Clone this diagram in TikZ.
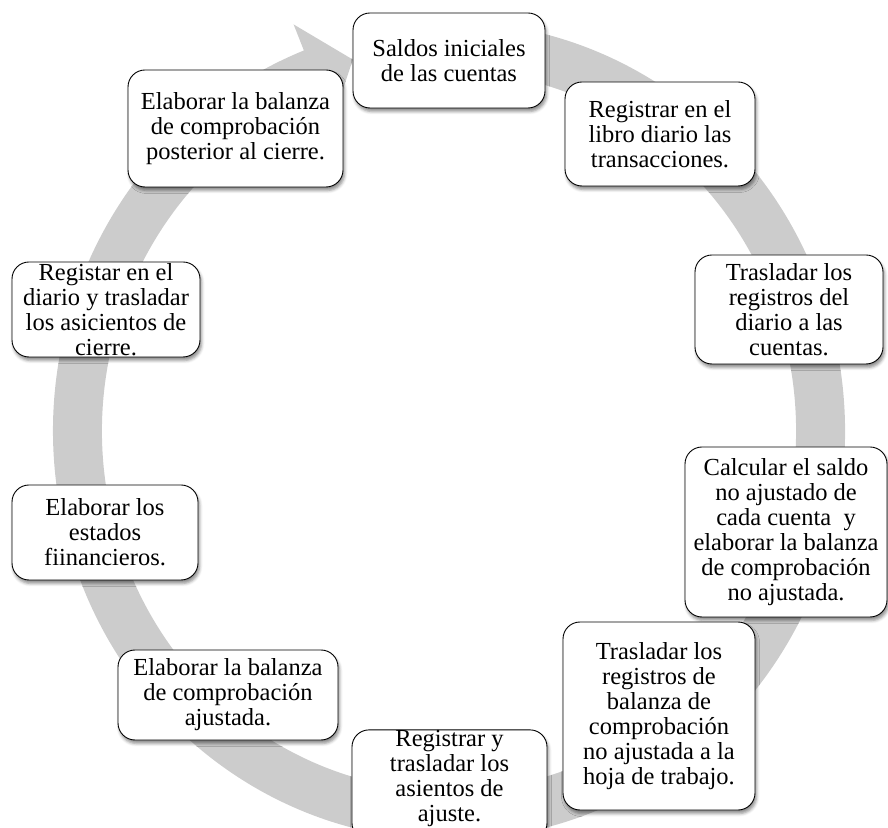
\documentclass[tikz,border=0pt]{standalone}
\usepackage{fontspec}
\setmainfont{Liberation Serif}
\usetikzlibrary{shadows.blur}
\definecolor{ringgray}{HTML}{CCCCCC}
\begin{document}
\begin{tikzpicture}[x=1pt,y=1pt,
  stage/.style={draw=black, line width=0.9pt, fill=white, rounded corners=17pt,
    align=center, inner sep=0pt,
    font=\fontsize{24.5}{25}\selectfont,
    blur shadow={shadow xshift=1.5pt, shadow yshift=-3.5pt,
                 shadow blur radius=3pt, shadow opacity=45}},
]
\useasboundingbox (0,0) rectangle (888,827);

% grey cycle band with its arrow head at the top left
\begin{scope}[shift={(449,396)}]
  \fill[ringgray]
    (100:396pt and 409pt)
      arc[start angle=100, end angle=-248.5, x radius=396pt, y radius=409pt]
    -- (111.5:424pt and 437pt)
    -- (105:371.5pt and 384.5pt)
    -- (111.5:319pt and 332pt)
    -- (111.5:347pt and 360pt)
      arc[start angle=-248.5, end angle=100, x radius=347pt, y radius=360pt]
    -- cycle;
\end{scope}

% steps of the accounting cycle
\node[stage, minimum width=192pt, minimum height=95pt] (saldos) at (449,766.5)
  {Saldos iniciales\\de las cuentas};
\node[stage, minimum width=190pt, minimum height=104pt] (registrar) at (660,693)
  {Registrar en el\\libro diario las\\transacciones.};
\node[stage, minimum width=215pt, minimum height=117pt] (posterior) at (235.5,698.5)
  {Elaborar la balanza\\de comprobación\\posterior al cierre.};
\node[stage, minimum width=188pt, minimum height=109pt] (trasladar) at (789,517.5)
  {Trasladar los\\registros del\\diario a las\\cuentas.};
\node[stage, minimum width=188pt, minimum height=95pt] (cierre) at (106,517.5)
  {Registar en el\\diario y trasladar\\los asicientos de\\cierre.};
\node[stage, minimum width=202pt, minimum height=170pt] (calcular) at (786,295)
  {Calcular el saldo\\no ajustado de\\cada cuenta~ y\\elaborar la balanza\\de comprobación\\no ajustada.};
\node[stage, minimum width=186pt, minimum height=95pt] (estados) at (105,294.5)
  {Elaborar los\\estados\\fiinancieros.};
\node[stage, minimum width=192pt, minimum height=188pt] (hoja) at (659,111)
  {Trasladar los\\registros de\\balanza de\\comprobación\\no ajustada a la\\hoja de trabajo.};
\node[stage, minimum width=220pt, minimum height=90pt] (ajustada) at (228,132)
  {Elaborar la balanza\\de comprobación\\ajustada.};
\node[stage, minimum width=195pt, minimum height=106pt] (ajuste) at (449.5,42)
  {Registrar y\\trasladar los\\asientos de\\ajuste.\\[-6pt]};
\end{tikzpicture}
\end{document}
